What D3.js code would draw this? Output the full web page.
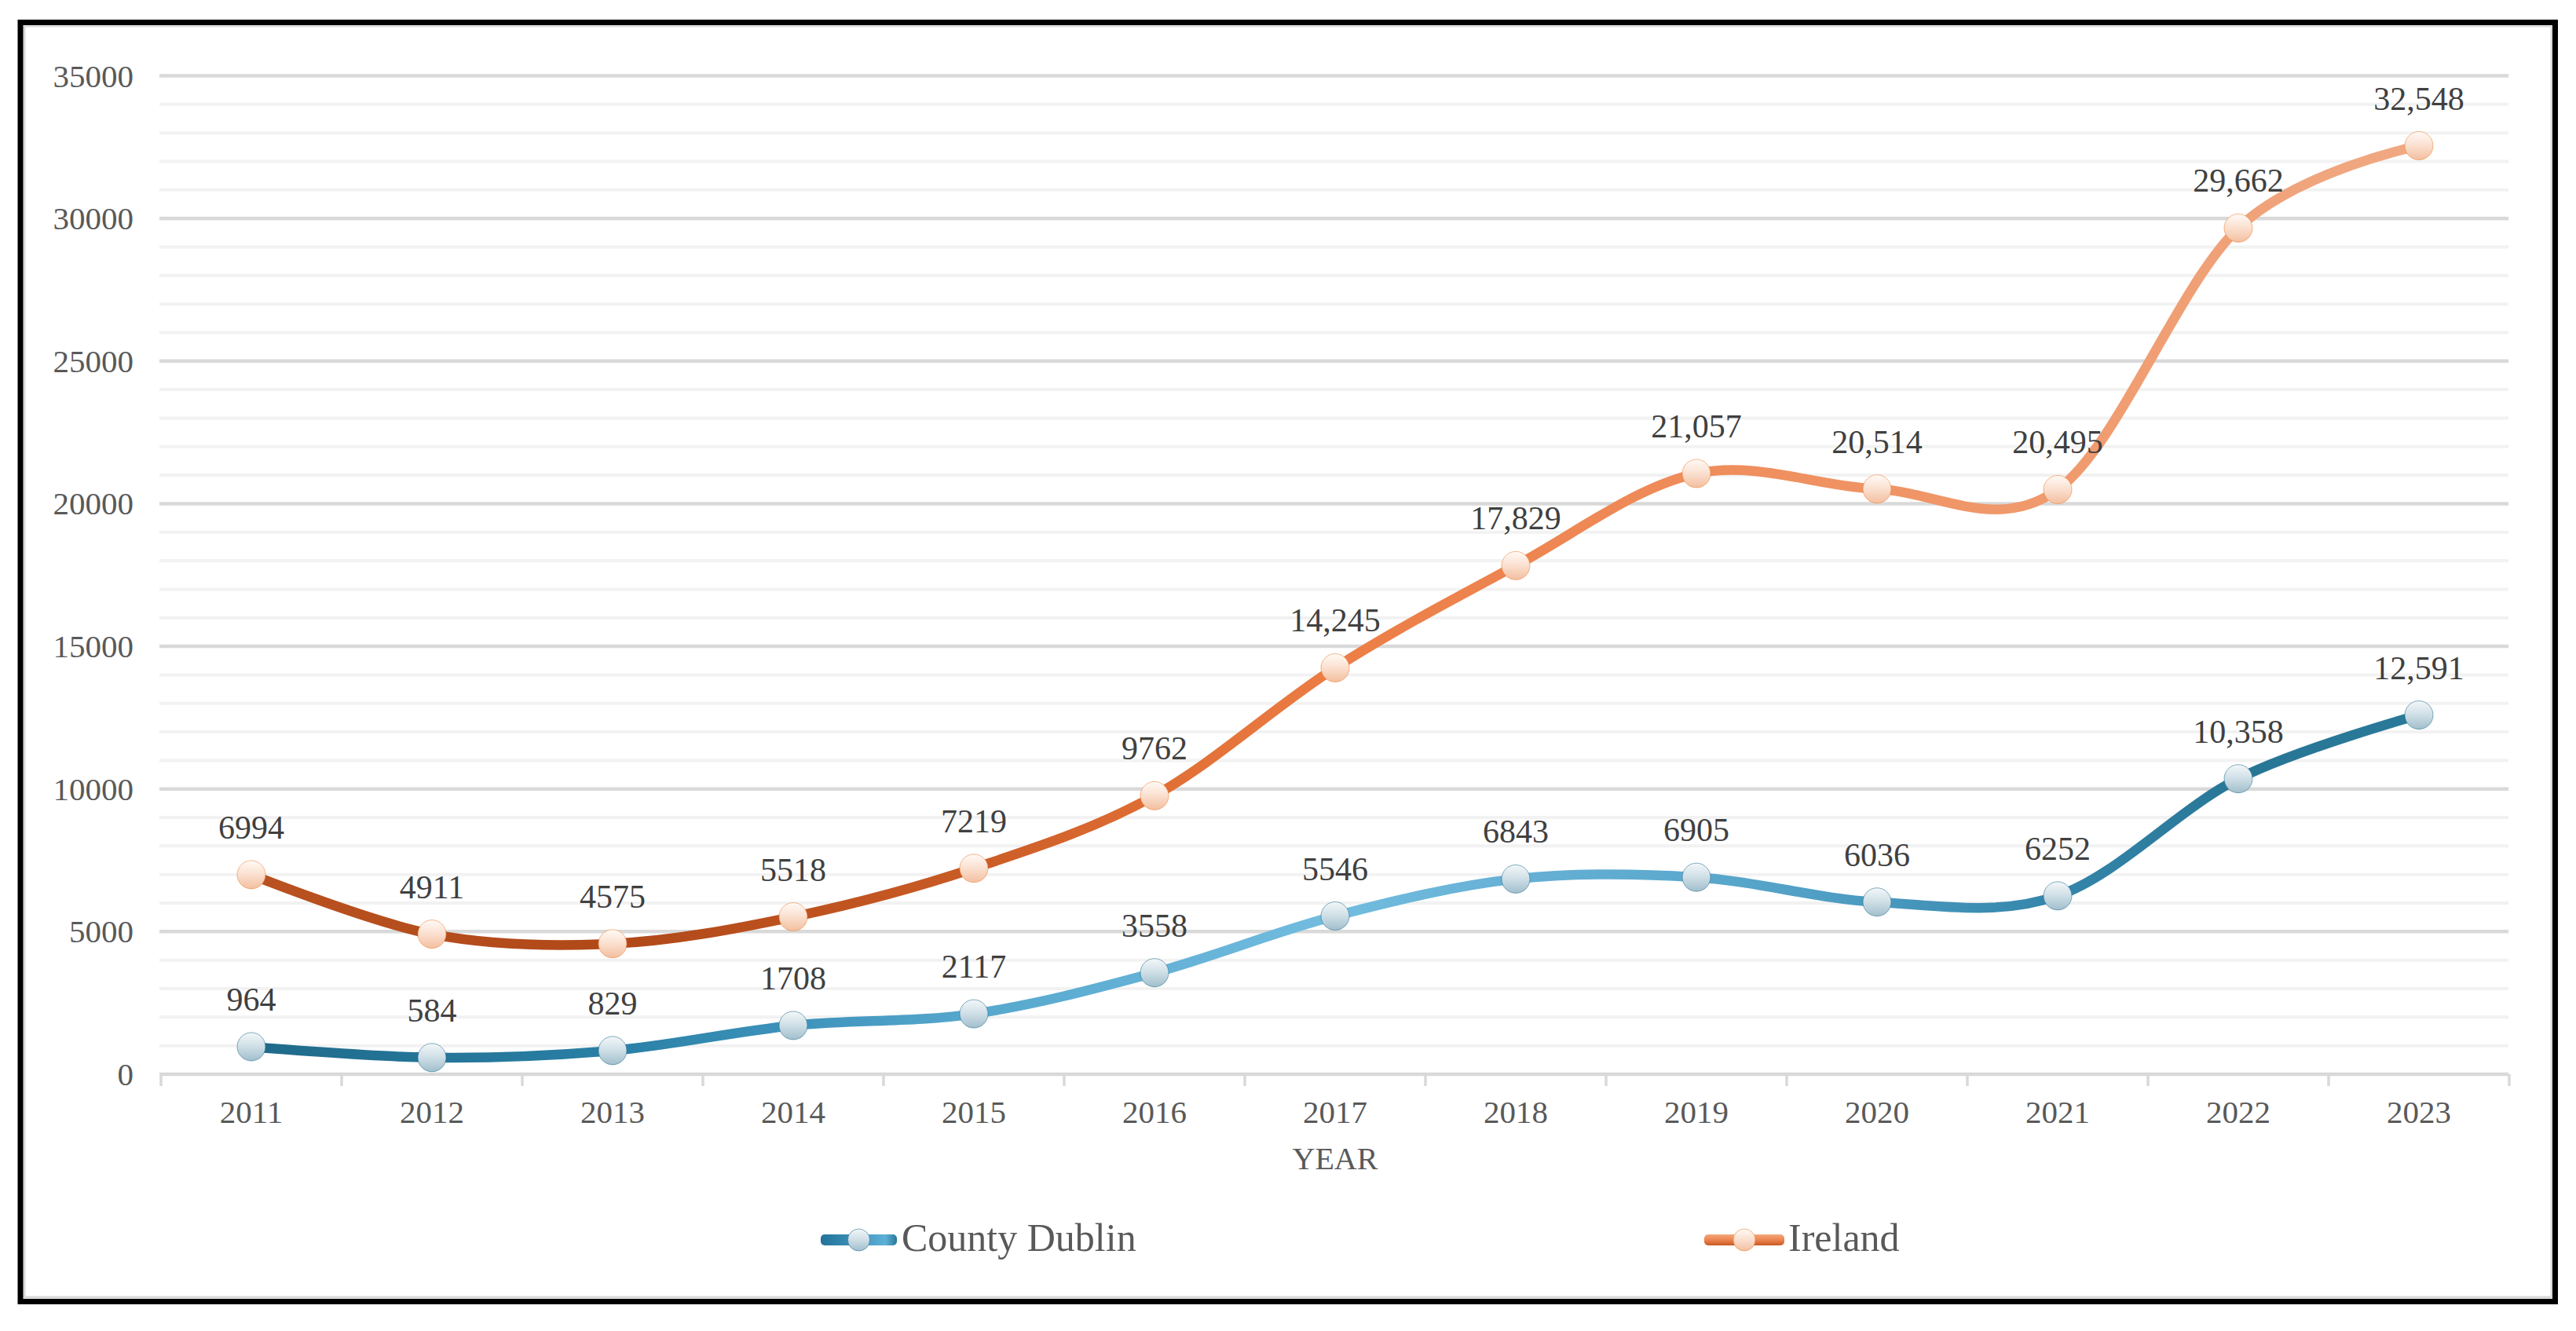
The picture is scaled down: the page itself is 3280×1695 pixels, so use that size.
<!DOCTYPE html>
<html>
<head>
<meta charset="utf-8">
<script src="https://cdn.jsdelivr.net/npm/d3@7"></script>
<style>
  html, body { margin: 0; padding: 0; background: #ffffff; }
  svg { display: block; }
  text { font-family: "Liberation Serif", "Times New Roman", serif; }
</style>
</head>
<body>
<svg id="chart" width="3280" height="1695"></svg>
<script>
const years = ["2011","2012","2013","2014","2015","2016","2017","2018","2019","2020","2021","2022","2023"];
const dublin = [964, 584, 829, 1708, 2117, 3558, 5546, 6843, 6905, 6036, 6252, 10358, 12591];
const ireland = [6994, 4911, 4575, 5518, 7219, 9762, 14245, 17829, 21057, 20514, 20495, 29662, 32548];
const yTicks = [0, 5000, 10000, 15000, 20000, 25000, 30000, 35000];
const seriesNames = ["County Dublin", "Ireland"];
const xTitle = "YEAR";

const W = 3280, H = 1695;
const svg = d3.select("#chart");

svg.append("rect").attr("x", 0).attr("y", 0).attr("width", W).attr("height", H).attr("fill", "#fff");

const x = d3.scaleBand().domain(years).range([205, 3195]).padding(0);
const cx = d => x(d) + x.bandwidth() / 2;
const y = d3.scaleLinear().domain([0, 35000]).range([1368, 96.5]);

const defs = svg.append("defs");

function lineGrad(id, stops) {
  const g = defs.append("linearGradient").attr("id", id)
    .attr("gradientUnits", "userSpaceOnUse")
    .attr("x1", cx(years[0])).attr("x2", cx(years[years.length - 1]))
    .attr("y1", 0).attr("y2", 0);
  stops.forEach(s => g.append("stop").attr("offset", s[0]).attr("stop-color", s[1]));
}
lineGrad("gIre", [[0, "#b95220"], [0.17, "#b04818"], [0.33, "#c95b25"], [0.42, "#e06f35"], [0.5, "#ec7d45"], [0.67, "#ef8d5c"], [0.83, "#f09a6d"], [1, "#f0a983"]]);
lineGrad("gDub", [[0, "#1f6a8a"], [0.17, "#2a80a6"], [0.25, "#3d93bb"], [0.33, "#56a7cd"], [0.5, "#72bcdf"], [0.58, "#66b1d5"], [0.67, "#5ba8cd"], [0.75, "#4a99bf"], [0.83, "#3586ab"], [0.92, "#287696"], [1, "#2b7999"]]);

function vGrad(id, stops) {
  const g = defs.append("linearGradient").attr("id", id)
    .attr("x1", 0).attr("x2", 0).attr("y1", 0).attr("y2", 1);
  stops.forEach(s => g.append("stop").attr("offset", s[0]).attr("stop-color", s[1]));
}
vGrad("mIre", [[0, "#fffaf6"], [0.45, "#fbe2d3"], [1, "#f3bf9f"]]);
vGrad("mDub", [[0, "#f3f7f9"], [0.45, "#d2e1e8"], [1, "#a1bfcc"]]);
vGrad("lIre", [[0, "#f3a97c"], [0.5, "#ec8450"], [1, "#c85a24"]]);
const lg = defs.append("linearGradient").attr("id", "lDub").attr("x1", 0).attr("x2", 1).attr("y1", 0).attr("y2", 0);
[[0, "#23739a"], [0.5, "#3f94bd"], [0.85, "#5eb0d6"], [1, "#2a7898"]].forEach(s => lg.append("stop").attr("offset", s[0]).attr("stop-color", s[1]));

// Minor gridlines
const minor = d3.range(1000, 35000, 1000).filter(v => v % 5000 !== 0);
svg.append("g").selectAll("line").data(minor).join("line")
  .attr("x1", 203).attr("x2", 3194)
  .attr("y1", d => y(d)).attr("y2", d => y(d))
  .attr("stroke", "#f2f2f2").attr("stroke-width", 4);

// Major gridlines
svg.append("g").selectAll("line").data(yTicks).join("line")
  .attr("x1", 203).attr("x2", 3194)
  .attr("y1", d => y(d)).attr("y2", d => y(d))
  .attr("stroke", "#d9d9d9").attr("stroke-width", 4.5);

// X tick marks at category boundaries
const bounds = years.map(d => x(d)).concat([x.range()[1]]);
svg.append("g").selectAll("line").data(bounds).join("line")
  .attr("x1", d => d).attr("x2", d => d)
  .attr("y1", y(0)).attr("y2", y(0) + 15)
  .attr("stroke", "#d9d9d9").attr("stroke-width", 3.5);

// Y axis labels
const yAxis = svg.append("g").attr("transform", "translate(170,0)")
  .call(d3.axisLeft(y).tickValues(yTicks).tickSize(0).tickPadding(0).tickFormat(d3.format("d")));
yAxis.select(".domain").remove();
yAxis.selectAll("text").attr("font-size", 41).attr("fill", "#595959")
  .attr("font-family", "Liberation Serif").attr("dy", "0.33em");

// X axis labels
const xAxis = svg.append("g").attr("transform", `translate(0,${y(0)})`)
  .call(d3.axisBottom(x).tickSize(0).tickPadding(33));
xAxis.select(".domain").remove();
xAxis.selectAll("text").attr("font-size", 41).attr("fill", "#595959")
  .attr("font-family", "Liberation Serif");

svg.append("text").attr("x", (x.range()[0] + x.range()[1]) / 2).attr("y", 1489)
  .attr("text-anchor", "middle").attr("font-size", 40).attr("fill", "#595959")
  .text(xTitle);

// Lines
const line = d3.line().x((d, i) => cx(years[i])).y(d => y(d)).curve(d3.curveCatmullRom.alpha(0));
svg.append("path").datum(dublin).attr("d", line).attr("fill", "none")
  .attr("stroke", "url(#gDub)").attr("stroke-width", 12.5).attr("stroke-linecap", "round").attr("stroke-linejoin", "round");
svg.append("path").datum(ireland).attr("d", line).attr("fill", "none")
  .attr("stroke", "url(#gIre)").attr("stroke-width", 12.5).attr("stroke-linecap", "round").attr("stroke-linejoin", "round");

// Markers
function markers(data, fill, stroke) {
  svg.append("g").selectAll("circle").data(data).join("circle")
    .attr("cx", (d, i) => cx(years[i])).attr("cy", d => y(d)).attr("r", 18)
    .attr("fill", fill).attr("stroke", stroke).attr("stroke-opacity", 0.55).attr("stroke-width", 1);
}
markers(dublin, "url(#mDub)", "#1f6a8a");
markers(ireland, "url(#mIre)", "#ed7d31");

// Data labels
const fmt = v => v >= 10000 ? d3.format(",")(v) : String(v);
function labels(data) {
  svg.append("g").selectAll("text").data(data).join("text")
    .attr("x", (d, i) => cx(years[i])).attr("y", d => y(d) - 46)
    .attr("text-anchor", "middle").attr("font-size", 42).attr("fill", "#404040")
    .text(d => fmt(d));
}
labels(dublin);
labels(ireland);

// Legend
const legend = [
  { name: seriesNames[0], x0: 1045, x1: 1142, grad: "url(#lDub)", m: "url(#mDub)", s: "#1f6a8a", tx: 1148 },
  { name: seriesNames[1], x0: 2170, x1: 2272, grad: "url(#lIre)", m: "url(#mIre)", s: "#ed7d31", tx: 2277 }
];
const lgG = svg.append("g").selectAll("g").data(legend).join("g");
lgG.append("rect").attr("x", d => d.x0).attr("y", 1572).attr("width", d => d.x1 - d.x0).attr("height", 14)
  .attr("rx", 5).attr("fill", d => d.grad);
lgG.append("circle").attr("cx", d => (d.x0 + d.x1) / 2).attr("cy", 1579).attr("r", 14)
  .attr("fill", d => d.m).attr("stroke", d => d.s).attr("stroke-opacity", 0.55).attr("stroke-width", 1);
lgG.append("text").attr("x", d => d.tx).attr("y", 1593).attr("font-size", 50).attr("fill", "#595959")
  .text(d => d.name);

// Borders
svg.append("rect").attr("x", 31).attr("y", 33).attr("width", 3249 - 31).attr("height", 1652 - 33)
  .attr("fill", "none").attr("stroke", "#d9d9d9").attr("stroke-width", 3);
svg.append("rect").attr("x", 26).attr("y", 28.5).attr("width", 3253.5 - 26).attr("height", 1657.5 - 28.5)
  .attr("fill", "none").attr("stroke", "#000").attr("stroke-width", 7);
</script>
</body>
</html>
